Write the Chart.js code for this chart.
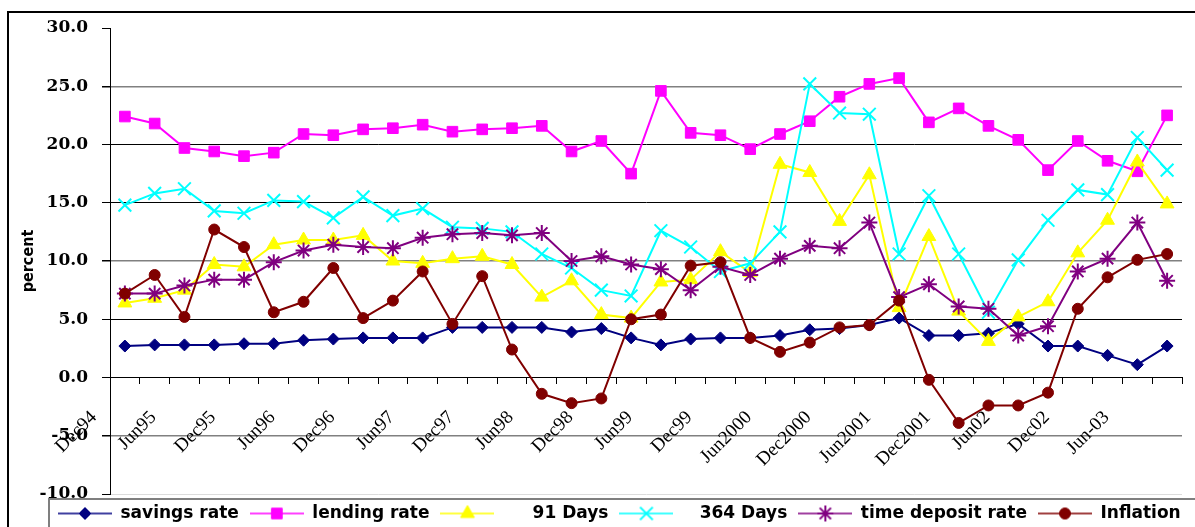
<!DOCTYPE html>
<html>
<head>
<meta charset="utf-8">
<title>Interest rates and inflation</title>
<script src="https://cdn.jsdelivr.net/npm/chart.js@4.4.1/dist/chart.umd.min.js"></script>
<style>
  html, body { margin: 0; padding: 0; background: #fff; overflow: hidden; }
  #wrap { position: relative; width: 1240px; height: 540px; }
  #frame { position: absolute; left: 7px; top: 11px; width: 1260px; height: 620px; border: 2px solid #000; }
  #rates { position: absolute; left: 0; top: 0; }
</style>
</head>
<body>
<div id="wrap">
  <div id="frame"></div>
  <canvas id="rates" width="1240" height="540"></canvas>
</div>
<script>
// Quarterly observations, Dec 1994 - Sep 2003
const quarters = [
    'Dec94', 'Mar95', 'Jun95', 'Sep95', 'Dec95', 'Mar96', 'Jun96', 'Sep96', 'Dec96',
    'Mar97', 'Jun97', 'Sep97', 'Dec97', 'Mar98', 'Jun98', 'Sep98', 'Dec98', 'Mar99',
    'Jun99', 'Sep99', 'Dec99', 'Mar2000', 'Jun2000', 'Sep2000', 'Dec2000', 'Mar2001',
    'Jun2001', 'Sep2001', 'Dec2001', 'Mar02', 'Jun02', 'Sep02', 'Dec02', 'Mar-03',
    'Jun-03', 'Sep-03'
];

const savingsRate = [2.7, 2.8, 2.8, 2.8, 2.9, 2.9, 3.2, 3.3, 3.4, 3.4, 3.4, 4.3,
    4.3, 4.3, 4.3, 3.9, 4.2, 3.4, 2.8, 3.3, 3.4, 3.4, 3.6, 4.1,
    4.2, 4.5, 5.1, 3.6, 3.6, 3.8, 4.6, 2.7, 2.7, 1.9, 1.1, 2.7];

const lendingRate = [22.4, 21.8, 19.7, 19.4, 19.0, 19.3, 20.9, 20.8, 21.3, 21.4, 21.7, 21.1,
    21.3, 21.4, 21.6, 19.4, 20.3, 17.5, 24.6, 21.0, 20.8, 19.6, 20.9, 22.0,
    24.1, 25.2, 25.7, 21.9, 23.1, 21.6, 20.4, 17.8, 20.3, 18.6, 17.7, 22.5];

const bill91 = [6.4, 6.8, 7.5, 9.7, 9.5, 11.4, 11.8, 11.8, 12.2, 10.0, 9.8, 10.2,
    10.4, 9.7, 6.9, 8.3, 5.4, 5.1, 8.2, 8.4, 10.8, 9.0, 18.3, 17.6,
    13.4, 17.4, 6.0, 12.1, 5.7, 3.1, 5.2, 6.5, 10.7, 13.5, 18.5, 14.9];

const bill364 = [14.8, 15.8, 16.2, 14.3, 14.1, 15.2, 15.1, 13.7, 15.5, 13.9, 14.5, 12.9,
    12.8, 12.5, 10.6, 9.4, 7.5, 7.0, 12.6, 11.2, 9.1, 9.8, 12.5, 25.2,
    22.7, 22.6, 10.6, 15.6, 10.6, 5.6, 10.1, 13.5, 16.1, 15.7, 20.6, 17.8];

const timeDeposit = [7.2, 7.2, 7.9, 8.4, 8.4, 9.9, 10.9, 11.4, 11.2, 11.1, 12.0, 12.3,
    12.4, 12.2, 12.4, 10.0, 10.4, 9.7, 9.3, 7.5, 9.5, 8.8, 10.2, 11.3,
    11.1, 13.3, 6.9, 8.0, 6.1, 5.9, 3.6, 4.4, 9.1, 10.2, 13.3, 8.3];

const inflation = [7.2, 8.8, 5.2, 12.7, 11.2, 5.6, 6.5, 9.4, 5.1, 6.6, 9.1, 4.6,
    8.7, 2.4, -1.4, -2.2, -1.8, 5.0, 5.4, 9.6, 9.9, 3.4, 2.2, 3.0,
    4.3, 4.5, 6.6, -0.2, -3.9, -2.4, -2.4, -1.3, 5.9, 8.6, 10.1, 10.6];

const yTicks = { min: -10, max: 30, step: 5 };

// line + marker look for each series
const series = [
    { label: 'savings rate', values: savingsRate, color: '#000080', marker: 'rectRot', radius: 6 },
    { label: 'lending rate', values: lendingRate, color: '#FF00FF', marker: 'rect', radius: 7.5 },
    { label: '     91 Days', values: bill91, color: '#FFFF00', marker: 'triangle', radius: 8 },
    { label: '   364 Days', values: bill364, color: '#00FFFF', marker: 'crossRot', radius: 9 },
    { label: 'time deposit rate', values: timeDeposit, color: '#800080', marker: 'star', radius: 8 },
    { label: 'Inflation', values: inflation, color: '#800000', marker: 'circle', radius: 5.5 }
];

const isOpenMarker = m => m === 'crossRot' || m === 'cross' || m === 'star';

// small line-with-marker image used as the legend key
function legendKey(s) {
    const c = document.createElement('canvas');
    c.width = 54;
    c.height = 20;
    const ctx = c.getContext('2d');
    ctx.strokeStyle = s.color;
    ctx.lineWidth = 1.5;
    ctx.beginPath();
    ctx.moveTo(0, 10);
    ctx.lineTo(54, 10);
    ctx.stroke();
    ctx.fillStyle = s.color;
    ctx.lineWidth = isOpenMarker(s.marker) ? 2 : 1;
    Chart.helpers.drawPoint(ctx, {
        pointStyle: s.marker,
        radius: s.radius,
        borderWidth: ctx.lineWidth
    }, 27, 10);
    return c;
}

function gridColor(ctx) {
    const v = ctx.tick.value;
    if (v === yTicks.max) return 'rgba(0,0,0,0)';
    if (v === yTicks.min) return '#dcdcdc';
    if (v === 25 || v === 10 || v === -5) return '#808080';
    return '#000000';
}

// grey frame round the legend, and legend lined up under the plot
const legendFrame = {
    id: 'legendFrame',
    afterLayout(chart) {
        chart.legend.left = 47;
    },
    afterDraw(chart) {
        const l = chart.legend;
        const ctx = chart.ctx;
        ctx.save();
        ctx.strokeStyle = '#7f7f7f';
        ctx.lineWidth = 2;
        ctx.strokeRect(l.left + 2, l.top + 5, chart.width, chart.height);
        ctx.restore();
    }
};

const keys = series.map(legendKey);

new Chart(document.getElementById('rates'), {
    type: 'line',
    data: {
        labels: quarters,
        datasets: series.map((s, i) => ({
            label: s.label,
            data: s.values,
            borderColor: s.color,
            backgroundColor: s.color,
            borderWidth: 2,
            tension: 0,
            fill: false,
            pointStyle: s.marker,
            pointRadius: s.radius,
            pointHoverRadius: s.radius,
            pointBackgroundColor: s.color,
            pointBorderColor: s.color,
            pointBorderWidth: isOpenMarker(s.marker) ? 2 : 1,
            order: series.length - i
        }))
    },
    options: {
        responsive: false,
        animation: false,
        devicePixelRatio: 1,
        layout: { padding: { left: 12, top: 28, right: 0, bottom: 8 } },
        plugins: {
            tooltip: { enabled: false },
            legend: {
                position: 'bottom',
                align: 'start',
                labels: {
                    usePointStyle: true,
                    pointStyleWidth: 54,
                    padding: 11,
                    color: '#000',
                    font: { family: 'DejaVu Sans', size: 17, weight: 'bold' },
                    generateLabels: chart => chart.data.datasets.map((ds, i) => ({
                        text: ds.label,
                        pointStyle: keys[i],
                        fillStyle: ds.borderColor,
                        strokeStyle: ds.borderColor,
                        lineWidth: 0,
                        hidden: false,
                        datasetIndex: i,
                        fontColor: '#000'
                    }))
                }
            }
        },
        scales: {
            x: {
                position: { y: 0 },
                offset: true,
                grid: {
                    drawOnChartArea: false,
                    offset: true,
                    drawTicks: true,
                    tickLength: 6,
                    tickColor: '#000'
                },
                border: { color: '#000', width: 1 },
                ticks: {
                    autoSkip: false,
                    minRotation: 45,
                    maxRotation: 45,
                    padding: 23,
                    labelOffset: -31,
                    color: '#000',
                    font: { family: 'Liberation Serif', size: 19 },
                    callback: (v, i) => (i % 2 === 0 ? quarters[i] : '')
                }
            },
            y: {
                min: yTicks.min,
                max: yTicks.max,
                grid: {
                    color: gridColor,
                    lineWidth: ctx => (gridColor(ctx) === '#808080' ? 1.5 : 1),
                    drawTicks: true,
                    tickLength: 8,
                    tickColor: '#000'
                },
                border: { color: '#000', width: 1 },
                ticks: {
                    stepSize: yTicks.step,
                    padding: 14,
                    color: '#000',
                    font: { family: 'DejaVu Serif', size: 17, weight: 'bold' },
                    callback: v => v.toFixed(1)
                },
                title: {
                    display: true,
                    text: 'percent',
                    color: '#000',
                    padding: { top: 7, bottom: 0 },
                    font: { family: '"DejaVu Sans Condensed", "DejaVu Sans"', size: 16, weight: 'bold' }
                },
                afterFit: scale => { scale.width = 98; }
            },
            // empty right-hand strip so the plot stops short of the legend's right end
            yEdge: {
                position: 'right',
                grid: { display: false },
                border: { display: false },
                ticks: { display: false },
                afterFit: scale => { scale.width = 58; }
            }
        }
    },
    plugins: [legendFrame]
});
</script>
</body>
</html>
